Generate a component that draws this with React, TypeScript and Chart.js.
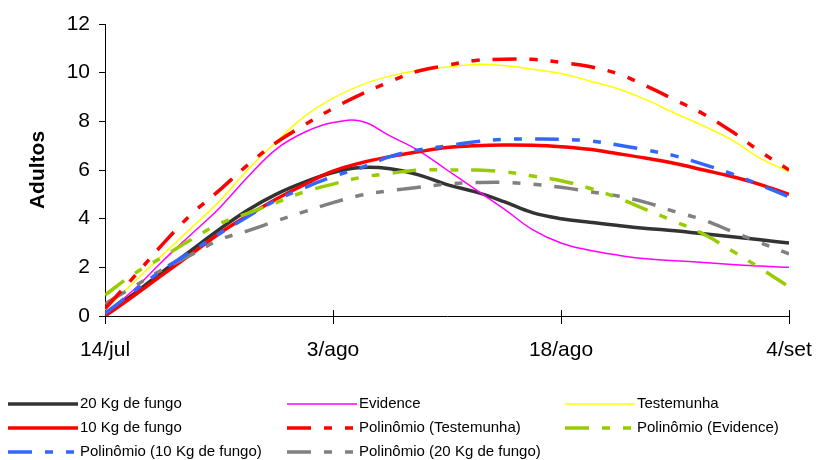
import React, { useEffect, useRef } from 'react';
import { Chart, registerables } from 'chart.js';

Chart.register(...registerables);

// x positions: 25 sampling points, tick labels every 8 points
const xTickLabels = ['14/jul', '3/ago', '18/ago', '4/set'];
const yTicks = [0, 2, 4, 6, 8, 10, 12];

const kg20 = [0.1, 0.9, 1.8, 2.68, 3.55, 4.35, 5.0, 5.5, 5.9, 6.1, 6.05, 5.8, 5.4, 5.1, 4.7, 4.25, 4.0, 3.85, 3.72, 3.6, 3.5, 3.38, 3.26, 3.13, 3.0];
const evidence = [0.1, 1.07, 2.23, 3.33, 4.42, 5.7, 6.85, 7.55, 7.95, 8.0, 7.4, 6.8, 6.0, 5.2, 4.4, 3.55, 3.0, 2.7, 2.5, 2.35, 2.27, 2.2, 2.12, 2.05, 2.0];
const testemunha = [0.25, 1.38, 2.49, 3.59, 4.7, 6.0, 7.15, 8.2, 8.95, 9.5, 9.86, 10.1, 10.23, 10.34, 10.29, 10.14, 9.97, 9.66, 9.34, 8.88, 8.33, 7.81, 7.23, 6.48, 5.93];
const kg10 = [0.0, 0.82, 1.68, 2.52, 3.38, 4.12, 4.8, 5.4, 5.95, 6.3, 6.55, 6.75, 6.92, 7.0, 7.03, 7.02, 6.96, 6.85, 6.67, 6.48, 6.27, 6.0, 5.73, 5.4, 5.0];
const poliTestemunha = [0.3, 1.59, 2.92, 4.15, 5.15, 6.2, 7.12, 7.85, 8.53, 9.12, 9.63, 10.07, 10.3, 10.5, 10.55, 10.55, 10.42, 10.25, 9.95, 9.45, 8.88, 8.3, 7.58, 6.75, 6.0];
const poliEvidence = [0.86, 1.72, 2.41, 3.12, 3.78, 4.22, 4.66, 5.1, 5.42, 5.7, 5.86, 6.0, 6.0, 6.0, 5.93, 5.75, 5.56, 5.25, 4.85, 4.36, 3.88, 3.37, 2.68, 1.96, 1.2];
const poli10 = [0.1, 1.0, 1.88, 2.62, 3.37, 4.08, 4.75, 5.27, 5.73, 6.1, 6.55, 6.82, 6.99, 7.16, 7.26, 7.27, 7.26, 7.2, 7.03, 6.82, 6.58, 6.23, 5.84, 5.38, 4.9];
const poli20 = [0.5, 1.2, 1.9, 2.5, 3.12, 3.5, 3.9, 4.29, 4.66, 4.97, 5.15, 5.29, 5.42, 5.48, 5.49, 5.42, 5.29, 5.11, 4.93, 4.66, 4.29, 3.95, 3.47, 3.01, 2.55];

const seriesNames = [
  '20 Kg de fungo',
  'Evidence',
  'Testemunha',
  '10 Kg de fungo',
  'Polinômio (Testemunha)',
  'Polinômio (Evidence)',
  'Polinômio (10 Kg de fungo)',
  'Polinômio (20 Kg de fungo)',
];

const FONT = '"Liberation Sans", Arial, sans-serif';
const DASH = [24, 13, 8, 13, 8, 13];
const STEP = 8;
const LAST = (xTickLabels.length - 1) * STEP;

const toXY = (arr: number[]) => arr.map((y, i) => ({ x: i, y }));

export default function App() {
  const ref = useRef<HTMLCanvasElement | null>(null);

  useEffect(() => {
    document.body.style.margin = '0';
    const canvas = ref.current;
    if (!canvas) return;

    const styles = [
      { color: '#333333', width: 3.5, dash: [] as number[], order: 8 },
      { color: '#FF00FF', width: 1.5, dash: [] as number[], order: 7 },
      { color: '#FFFF00', width: 1.5, dash: [] as number[], order: 6 },
      { color: '#FF0000', width: 3.5, dash: [] as number[], order: 5 },
      { color: '#FF0000', width: 3.5, dash: DASH, order: 1 },
      { color: '#99CC00', width: 3.5, dash: DASH, order: 2 },
      { color: '#3366FF', width: 3.5, dash: DASH, order: 3 },
      { color: '#808080', width: 3.5, dash: DASH, order: 4 },
    ];
    const values = [kg20, evidence, testemunha, kg10, poliTestemunha, poliEvidence, poli10, poli20];

    const datasets = values.map((v, i) => ({
      label: seriesNames[i],
      data: toXY(v),
      borderColor: styles[i].color,
      backgroundColor: styles[i].color,
      borderWidth: styles[i].width,
      borderDash: styles[i].dash,
      pointRadius: 0,
      tension: 0.4,
      fill: false,
      order: styles[i].order,
    }));

    const legendPos = [
      { col: 0, row: 0 }, { col: 1, row: 0 }, { col: 2, row: 0 },
      { col: 0, row: 1 }, { col: 1, row: 1 }, { col: 2, row: 1 },
      { col: 0, row: 2 }, { col: 1, row: 2 },
    ];
    const colX = [8, 287, 565];
    const rowY = [404, 428, 452];

    const customPlugin = {
      id: 'custom',
      beforeDatasetsDraw(chart: any) {
        const ctx = chart.ctx;
        const xs = chart.scales.x;
        const y0 = chart.chartArea.bottom;
        ctx.save();
        ctx.strokeStyle = '#000';
        ctx.lineWidth = 1;
        xTickLabels.forEach((_, i) => {
          const px = Math.round(xs.getPixelForValue(i * STEP)) + 0.5;
          ctx.beginPath();
          ctx.moveTo(px, y0 - 6);
          ctx.lineTo(px, y0 + 8);
          ctx.stroke();
        });
        ctx.restore();
      },
      afterDraw(chart: any) {
        const ctx = chart.ctx;
        ctx.save();
        chart.data.datasets.forEach((ds: any, i: number) => {
          const p = legendPos[i];
          const x = colX[p.col];
          const y = rowY[p.row];
          ctx.strokeStyle = ds.borderColor;
          ctx.lineWidth = ds.borderWidth;
          ctx.setLineDash(ds.borderDash || []);
          ctx.beginPath();
          ctx.moveTo(x, y);
          ctx.lineTo(x + 70, y);
          ctx.stroke();
          ctx.setLineDash([]);
          ctx.fillStyle = '#000';
          ctx.font = `15px ${FONT}`;
          ctx.textBaseline = 'middle';
          ctx.textAlign = 'left';
          ctx.fillText(ds.label, x + 72, y);
        });
        ctx.restore();
      },
    };

    const chart = new Chart(canvas, {
      type: 'line',
      data: { datasets },
      options: {
        animation: false,
        responsive: false,
        maintainAspectRatio: false,
        layout: { padding: { left: 0, right: 28, top: 24, bottom: 0 } },
        plugins: {
          legend: { display: false },
          tooltip: { enabled: false },
          title: { display: false },
        },
        scales: {
          x: {
            type: 'linear',
            min: 0,
            max: LAST,
            afterFit: (s: any) => {
              s.height = 144;
              s.paddingLeft = 0;
              s.paddingRight = 0;
            },
            afterBuildTicks: (s: any) => {
              s.ticks = xTickLabels.map((_, i) => ({ value: i * STEP }));
            },
            grid: { display: false, drawTicks: false },
            border: { display: true, color: '#000', width: 1 },
            ticks: {
              padding: 22,
              color: '#000',
              font: { family: FONT, size: 21 },
              maxRotation: 0,
              autoSkip: false,
              callback: (v: any) => xTickLabels[Math.round(Number(v) / STEP)] ?? '',
            },
          },
          y: {
            type: 'linear',
            min: yTicks[0],
            max: yTicks[yTicks.length - 1],
            afterFit: (s: any) => {
              s.width = 105;
              s.paddingTop = 0;
              s.paddingBottom = 0;
            },
            afterBuildTicks: (s: any) => {
              s.ticks = yTicks.map((v) => ({ value: v }));
            },
            grid: { display: true, drawOnChartArea: false, drawTicks: true, tickLength: 6, color: '#000' },
            border: { display: true, color: '#000', width: 1 },
            ticks: {
              padding: 9,
              color: '#000',
              font: { family: FONT, size: 21 },
              callback: (v: any) => String(v),
            },
            title: {
              display: true,
              text: 'Adultos',
              color: '#000',
              font: { family: FONT, size: 21, weight: 'bold' },
              padding: { top: 26, bottom: 0 },
            },
          },
        },
      },
      plugins: [customPlugin],
    });

    return () => chart.destroy();
  }, []);

  return (
    <div style={{ width: 817, height: 460 }}>
      <canvas ref={ref} width={817} height={460} style={{ display: 'block', width: 817, height: 460 }} />
    </div>
  );
}
